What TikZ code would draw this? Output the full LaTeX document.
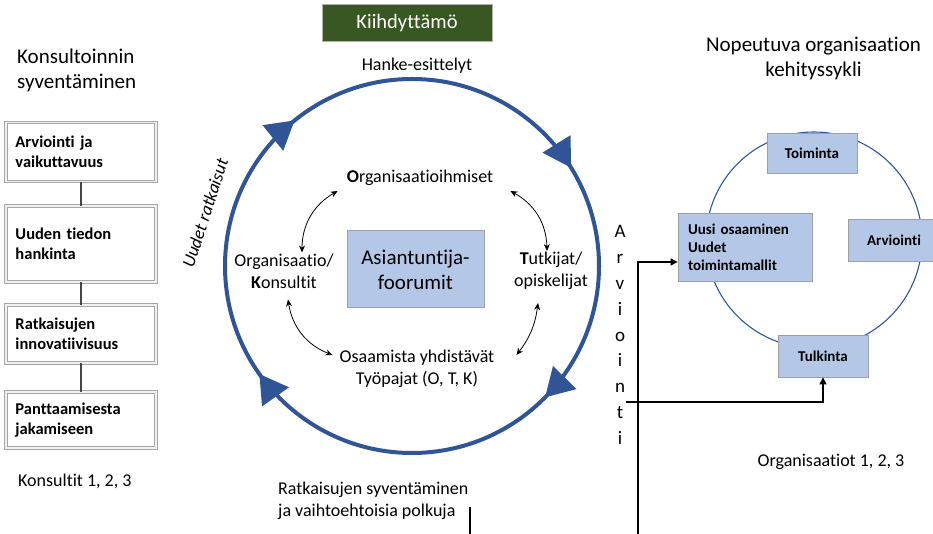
\documentclass[tikz,border=0pt]{standalone}
\usepackage{xcolor}
\usepackage{tikz}
\usepackage{fontspec}
\setmainfont{Carlito}[Ligatures=NoCommon]
\definecolor{ringblue}{RGB}{47, 85, 151}
\definecolor{boxblue}{RGB}{180, 199, 231}
\definecolor{kiihdgreen}{RGB}{56, 87, 35}
\usetikzlibrary{shapes, arrows.meta, positioning, calc, decorations.markings}

\begin{document}
\begin{tikzpicture}[
    x=1pt, y=1pt,
    label/.style={align=center, inner sep=1pt, font=\fontsize{18}{22}\selectfont},
    heading/.style={inner sep=0pt, font=\fontsize{21}{25}\selectfont},
    stepbox/.style={rectangle, draw=gray!70, line width=0.8pt, double=gray!12, double distance=1.6pt, fill=white, minimum width=150pt, text width=131pt, inner xsep=8pt, align=left, font=\bfseries\fontsize{16.5}{20}\selectfont},
    cyclebox/.style={rectangle, draw=gray!75, line width=0.8pt, fill=boxblue, align=left, font=\bfseries\fontsize{15}{18}\selectfont},
    ring/.style={draw=ringblue, line width=4pt},
    chain/.style={draw=gray!55!black, line width=2.5pt},
    duo/.style={{Stealth[length=7pt,width=6pt]}-{Stealth[length=7pt,width=6pt]}, line width=0.8pt},
    flow/.style={-{Triangle[length=7pt,width=7pt]}, line width=1.3pt}
]
    \useasboundingbox (0,0) rectangle (933,534);

    % vasen sarake
    \node[heading, align=left, anchor=west] (syventaminen) at (17,464) {Konsultoinnin\\syventäminen};
    \node[stepbox, minimum height=59pt] (arvio) at (81,382) {Arviointi ja\\vaikuttavuus};
    \node[stepbox, minimum height=76pt] (tieto) at (81,290) {Uuden tiedon\\hankinta};
    \node[stepbox, minimum height=58pt] (innov) at (81,200) {Ratkaisujen\\innovatiivisuus};
    \node[stepbox, minimum height=56pt] (jakam) at (81,114) {Panttaamisesta\\jakamiseen};
    \node[label, anchor=west, inner sep=0pt] (konsultit123) at (18,53) {Konsultit 1, 2, 3};

    \draw[chain] (arvio) -- (tieto);
    \draw[chain] (tieto) -- (innov);
    \draw[chain] (innov) -- (jakam);

    % kiihdyttamo
    \node[rectangle, draw=gray!60, line width=1pt, fill=kiihdgreen, text=white, minimum width=170pt, minimum height=37pt, font=\fontsize{20.5}{24}\selectfont] (kiihd) at (407,510.5) {Kiihdyttämö};
    \node[label] (hanke) at (417,468) {Hanke-esittelyt};

    \draw[ring, postaction={decorate}, decoration={markings,
        mark=at position 0.124 with {\arrow{Triangle[length=28pt,width=32pt]}},
        mark=at position 0.402 with {\arrow{Triangle[length=28pt,width=32pt]}},
        mark=at position 0.642 with {\arrow{Triangle[length=28pt,width=32pt]}},
        mark=at position 0.912 with {\arrow{Triangle[length=28pt,width=32pt]}}}]
        (412,268) ++(0:187) arc (0:-360:187);

    \node[rectangle, draw=gray!75, line width=1pt, fill=boxblue, minimum width=137pt, minimum height=77pt, align=center, font=\fontsize{21}{25}\selectfont] (foorumi) at (415.5,264.5) {Asiantuntija-\\foorumit};

    \node[label] (orgs) at (420,356) {\textbf{O}rganisaatioihmiset};
    \node[label] (konsultit) at (284,263) {Organisaatio/\\\textbf{K}onsultit};
    \node[label] (tutkijat) at (551,263) {\textbf{T}utkijat/\\opiskelijat};
    \node[label] (pajat) at (417,165) {Osaamista yhdistävät\\Työpajat (O, T, K)};
    \node[label, rotate=72, inner sep=0pt, font=\itshape\fontsize{18}{22}\selectfont] (uudet) at (205,321) {Uudet ratkaisut};

    \draw[duo] ([shift={(-8pt,-4pt)}]orgs.south west) to[bend right=30] ([xshift=18pt]konsultit.north);
    \draw[duo] ([shift={(16pt,-4pt)}]orgs.south east) to[bend left=30] ([xshift=-4pt]tutkijat.north);
    \draw[duo] ([shift={(4pt,-10pt)}]konsultit.south) to[bend right=30] ([shift={(-6pt,-6pt)}]pajat.north west);
    \draw[duo] ([shift={(-13pt,-12pt)}]tutkijat.south) to[bend left=15] ([shift={(21pt,-6pt)}]pajat.north east);

    \node[label, align=left, anchor=west, inner sep=0pt] (polkuja) at (278,33) {Ratkaisujen syventäminen\\ja vaihtoehtoisia polkuja};
    \coordinate (polkuYla) at (470,27);
    \coordinate (polkuAla) at (470,0);
    \draw[line width=1.3pt] (polkuYla) -- (polkuAla);

    % oikea sykli
    \node[heading, align=center] (nopeutuva) at (813.5,476) {Nopeutuva organisaation\\kehityssykli};
    \draw[ringblue, line width=1.1pt] (814,294) circle (108);
    \node[cyclebox, minimum width=90pt, minimum height=40pt, align=center] (toiminta) at (812,381) {Toiminta};
    \node[cyclebox, minimum width=134pt, minimum height=68pt, text width=114pt] (uusi) at (745,287) {Uusi osaaminen\\Uudet\\toimintamallit};
    \node[cyclebox, minimum width=92pt, minimum height=42pt, align=center] (arviointi) at (894,294) {Arviointi};
    \node[cyclebox, minimum width=90pt, minimum height=42pt, align=center] (tulkinta) at (823,178) {Tulkinta};
    \node[label] (organisaatiot) at (831,72) {Organisaatiot 1, 2, 3};

    \node[label, font=\fontsize{19}{25.8}\selectfont] (arviointiPysty) at (620,199) {A\\r\\v\\i\\o\\i\\n\\t\\i};

    \coordinate (arvioAlku) at (638,0);
    \coordinate (tulkAlku) at (626,132);
    \draw[flow] (arvioAlku) |- ([yshift=-15pt]uusi.west);
    \draw[flow] (tulkAlku) -| (tulkinta.south);
\end{tikzpicture}
\end{document}
